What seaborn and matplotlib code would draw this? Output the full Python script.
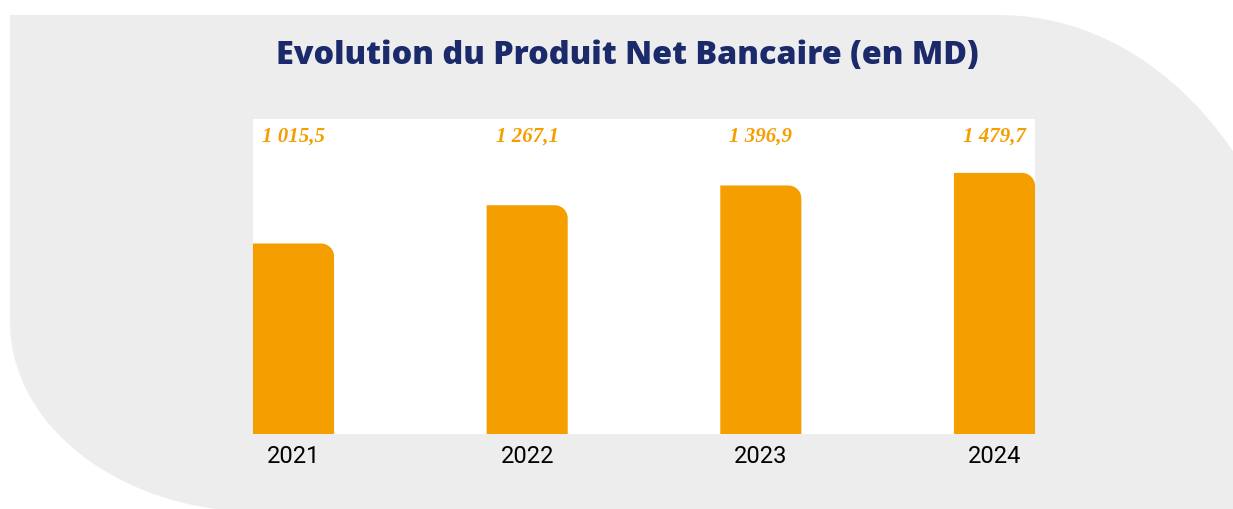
"""
Produit Net Bancaire 2021-2024, bar chart on a rounded grey card.
"""
import numpy as np
import matplotlib
matplotlib.use("Agg")
import matplotlib.pyplot as plt
import matplotlib.transforms as mtransforms
from matplotlib.path import Path
from matplotlib.patches import PathPatch
import seaborn as sns

years = ["2021", "2022", "2023", "2024"]
pnb = [1015.5, 1267.1, 1396.9, 1479.7]
title = "Evolution du Produit Net Bancaire (en MD)"

ORANGE = "#F59E00"
NAVY = "#1B2A6B"
CARD = "#EDEDED"

W, H = 1233, 510

sns.set_style("white")
plt.rcParams["font.family"] = ["Roboto", "DejaVu Sans"]

fig = plt.figure(figsize=(W / 100, H / 100), dpi=100, facecolor="white")


def fig_xy(x, y):
    # pixel coords (origin top-left) -> figure fraction
    return x / W, 1 - y / H


# grey card: square top-left, big rounded top-right and bottom-left
verts = [fig_xy(10, 16), fig_xy(1000, 16)]
t = np.linspace(0, np.pi / 2, 40)
for a in t:
    verts.append(fig_xy(1000 + 310 * np.sin(a), 16 + 400 * (1 - np.cos(a))))
verts.append(fig_xy(1310, 560))
verts.append(fig_xy(260, 560))
for a in t:
    verts.append(fig_xy(260 - 250 * np.sin(a), 323 + 190 * np.cos(a)))
verts.append(fig_xy(10, 16))
card = PathPatch(Path(verts), facecolor=CARD, edgecolor="none",
                 transform=fig.transFigure, zorder=-5)
fig.patches.append(card)

fig.text(627 / W, 1 - 56 / H, title, ha="center", va="center",
         fontsize=23.3, fontweight=800, family=["Open Sans", "DejaVu Sans"],
         color=NAVY)

ax = fig.add_axes([253 / W, 1 - 435 / H, 782 / W, 315 / H])
ax.set_facecolor("white")

bar_w = 0.347
sns.barplot(x=years, y=pnb, color=ORANGE, saturation=1, width=bar_w, ax=ax)

x_lo, x_hi = -bar_w / 2, 3 + bar_w / 2
y_lo, y_hi = -237, 1834
ax.set_xlim(x_lo, x_hi)
ax.set_ylim(y_lo, y_hi)

# redraw bars with a rounded top-right corner (radius ~13 px)
rad = 13
rx = rad * (x_hi - x_lo) / 782
ry = rad * (y_hi - y_lo) / 315
arc = np.linspace(0, np.pi / 2, 12)
for p in list(ax.patches):
    x0, w, h = p.get_x(), p.get_width(), p.get_height()
    pts = [(x0, y_lo), (x0, h), (x0 + w - rx, h)]
    for a in arc:
        pts.append((x0 + w - rx + rx * np.sin(a), h - ry + ry * np.cos(a)))
    pts.append((x0 + w, y_lo))
    pts.append((x0, y_lo))
    p.remove()
    ax.add_patch(PathPatch(Path(pts), facecolor=ORANGE, edgecolor="none", zorder=2))

trans = mtransforms.blended_transform_factory(ax.transData, ax.transAxes)
for i, v in enumerate(pnb):
    lbl = f"{v:,.1f}".replace(",", " ").replace(".", ",")
    ax.text(i, 0.946, lbl, transform=trans, ha="center", va="center",
            fontsize=15, fontweight="bold", fontstyle="italic",
            family=["Liberation Serif", "DejaVu Serif"], color=ORANGE)

for s in ax.spines.values():
    s.set_visible(False)
ax.set_yticks([])
ax.set_xlabel("")
ax.set_ylabel("")
ax.tick_params(axis="x", length=0, pad=7, labelsize=17, labelcolor="black")

fig.savefig("out.png", dpi=100, facecolor="white")
